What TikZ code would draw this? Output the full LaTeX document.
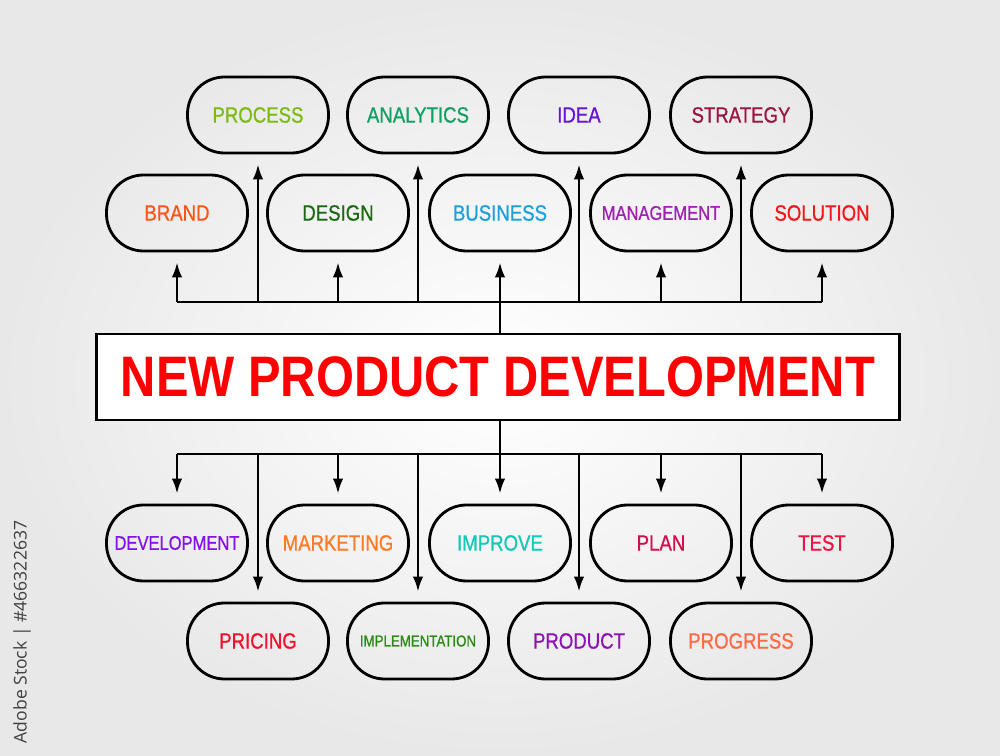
\documentclass[tikz,border=0pt]{standalone}
\usepackage{fontspec}
\usepackage{tikz}
\usetikzlibrary{arrows.meta}
\newfontfamily\labelfont[FakeStretch=0.84, FakeBold=0.8]{Liberation Sans}
\newfontfamily\titlefont[FakeStretch=0.855]{Liberation Sans}
\newfontfamily\stockfont{Open Sans}

\definecolor{cprocess}{HTML}{7CBB12}
\definecolor{canalytics}{HTML}{10A062}
\definecolor{cidea}{HTML}{6414D8}
\definecolor{cstrategy}{HTML}{9A1540}
\definecolor{cbrand}{HTML}{FF5414}
\definecolor{cdesign}{HTML}{1C6A12}
\definecolor{cbusiness}{HTML}{1AA0DA}
\definecolor{cmanagement}{HTML}{A020B4}
\definecolor{csolution}{HTML}{F01818}
\definecolor{cdevelopment}{HTML}{8412E6}
\definecolor{cmarketing}{HTML}{FF7A22}
\definecolor{cimprove}{HTML}{12C8B6}
\definecolor{cplan}{HTML}{D0104C}
\definecolor{ctest}{HTML}{F01242}
\definecolor{cpricing}{HTML}{F2102C}
\definecolor{cimplementation}{HTML}{2A8A12}
\definecolor{cproduct}{HTML}{9012B2}
\definecolor{cprogress}{HTML}{FF6A42}

\tikzset{
	>={Latex[length=3mm,width=2.1mm]},
	pill/.style={draw, line width=1.6pt, rounded corners=7.4mm,
		minimum width=28.2mm, minimum height=15.2mm,
		font=\labelfont\fontsize{12.6}{14}\selectfont},
	link/.style={line width=1.4pt}
}

\begin{document}
\begin{tikzpicture}[x=0.2mm, y=-0.2mm]
	\useasboundingbox (0, 0) rectangle (1000, 756);
	\shade[inner color=white, outer color=black!9] (0, 0) rectangle (1000, 756);

	\node[pill, text=cprocess] (process) at (258, 115) {PROCESS};
	\node[pill, text=canalytics] (analytics) at (418, 115) {ANALYTICS};
	\node[pill, text=cidea] (idea) at (579, 115) {IDEA};
	\node[pill, text=cstrategy] (strategy) at (741, 115) {STRATEGY};

	\node[pill, text=cbrand] (brand) at (177, 213) {BRAND};
	\node[pill, text=cdesign] (design) at (338, 213) {DESIGN};
	\node[pill, text=cbusiness] (business) at (500, 213) {BUSINESS};
	\node[pill, text=cmanagement, font=\labelfont\fontsize{11.2}{13}\selectfont] (management) at (661, 213) {MANAGEMENT};
	\node[pill, text=csolution] (solution) at (822, 213) {SOLUTION};

	\node[draw, line width=1.4pt, fill=white, minimum width=160.6mm, minimum height=17.2mm,
		text=red, font=\titlefont\bfseries\fontsize{32.5}{36}\selectfont] (title) at (498, 377) {NEW PRODUCT DEVELOPMENT};

	\node[pill, text=cdevelopment, font=\labelfont\fontsize{11.2}{13}\selectfont] (development) at (177, 543) {DEVELOPMENT};
	\node[pill, text=cmarketing] (marketing) at (338, 543) {MARKETING};
	\node[pill, text=cimprove] (improve) at (500, 543) {IMPROVE};
	\node[pill, text=cplan] (plan) at (661, 543) {PLAN};
	\node[pill, text=ctest] (test) at (822, 543) {TEST};

	\node[pill, text=cpricing] (pricing) at (258, 641) {PRICING};
	\node[pill, text=cimplementation, font=\labelfont\fontsize{9}{11}\selectfont] (implementation) at (418, 641) {IMPLEMENTATION};
	\node[pill, text=cproduct] (product) at (579, 641) {PRODUCT};
	\node[pill, text=cprogress] (progress) at (741, 641) {PROGRESS};

	\coordinate (up) at (500, 302);
	\coordinate (dn) at (500, 454);

	\draw[link] (up |- title.north) -- (up);
	\draw[link] (brand.south |- up) -- (solution.south |- up);
	\foreach \n in {brand, design, business, management, solution, process, analytics, idea, strategy}
		\draw[link, ->, shorten >=2mm] (\n.south |- up) -- (\n.south);

	\draw[link] (dn |- title.south) -- (dn);
	\draw[link] (development.north |- dn) -- (test.north |- dn);
	\foreach \n in {development, marketing, improve, plan, test, pricing, implementation, product, progress}
		\draw[link, ->, shorten >=2mm] (\n.north |- dn) -- (\n.north);

	\node[rotate=90, text=black!75, font=\stockfont\fontsize{10}{12}\selectfont] (stock) at (22, 632) {Adobe Stock | \#466322637};
\end{tikzpicture}
\end{document}
